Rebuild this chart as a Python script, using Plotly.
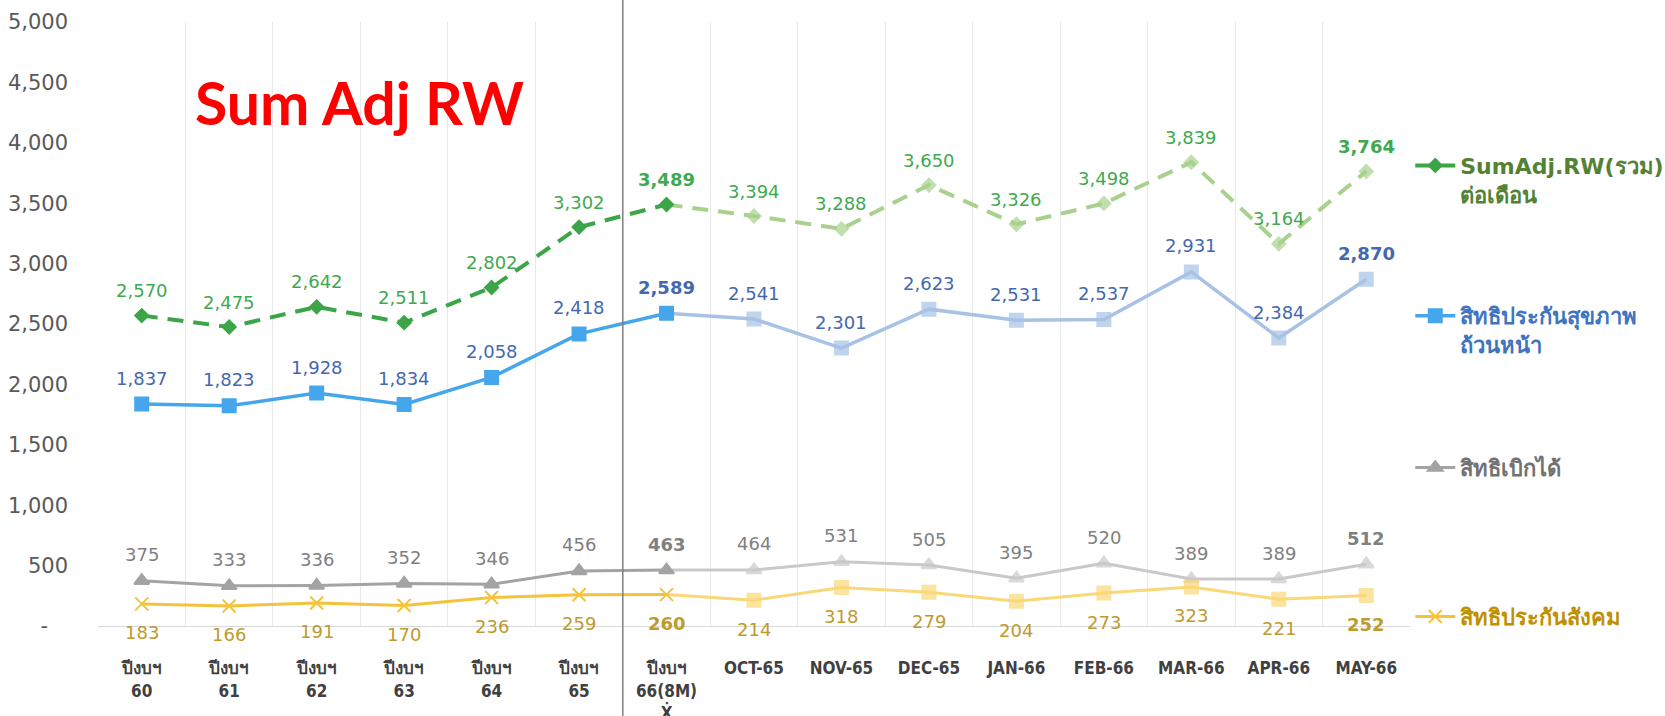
import plotly.graph_objects as go

categories = ["ปีงบฯ<br>60", "ปีงบฯ<br>61", "ปีงบฯ<br>62", "ปีงบฯ<br>63", "ปีงบฯ<br>64", "ปีงบฯ<br>65",
              "ปีงบฯ<br>66(8M)<br>Ẋ", "OCT-65", "NOV-65", "DEC-65", "JAN-66", "FEB-66", "MAR-66", "APR-66", "MAY-66"]
sum_adj = [2570, 2475, 2642, 2511, 2802, 3302, 3489, 3394, 3288, 3650, 3326, 3498, 3839, 3164, 3764]
uc = [1837, 1823, 1928, 1834, 2058, 2418, 2589, 2541, 2301, 2623, 2531, 2537, 2931, 2384, 2870]
csmbs = [375, 333, 336, 352, 346, 456, 463, 464, 531, 505, 395, 520, 389, 389, 512]
sso = [183, 166, 191, 170, 236, 259, 260, 214, 318, 279, 204, 273, 323, 221, 252]
bold_idx = [6, 14]
split = 6  # last fiscal-year point

series = [
    dict(name="SumAdj.RW(รวม)<br>ต่อเดือน", y=sum_adj, dark="#3BA548", light="#A9D18E", txt="#3FA950",
         sym="diamond", sym2="diamond", size=10, width=4, dash="16px,10px", shift=25,
         leg="legend", legcol="#548235", legy=0.798),
    dict(name="สิทธิประกันสุขภาพ<br>ถ้วนหน้า", y=uc, dark="#45A6EC", light="#A8C2E6", txt="#4468B0",
         sym="square", sym2="square", size=13, width=3.5, dash="solid", shift=26,
         leg="legend2", legcol="#3F74C0", legy=0.588),
    dict(name="สิทธิเบิกได้", y=csmbs, dark="#A3A3A3", light="#C9C9C9", txt="#808080",
         sym="triangle-up", sym2="triangle-up", size=13, width=3, dash="solid", shift=26,
         leg="legend3", legcol="#727272", legy=0.376),
    dict(name="สิทธิประกันสังคม", y=sso, dark="#F5C33B", light="#FAD878", txt="#BF9A2C",
         sym="x-thin-open", sym2="square", size=13, width=3, dash="solid", shift=-29,
         leg="legend4", legcol="#BF9000", legy=0.168),
]

x_all = list(range(len(categories)))


def lbl(i, v):
    s = f"{v:,}"
    return f"<b>{s}</b>" if i in bold_idx else s


fig = go.Figure()
annotations = []
for s in series:
    # monthly (light) segment
    xs = x_all[split:]
    ys = s["y"][split:]
    fig.add_trace(go.Scatter(
        x=xs, y=ys, mode="lines+markers",
        line=dict(color=s["light"], width=s["width"], dash=s["dash"]),
        marker=dict(symbol=s["sym2"], size=[0] + [s["size"]] * (len(xs) - 1), color=s["light"],
                    line=dict(color=s["light"], width=2)),
        showlegend=False, cliponaxis=False, hoverinfo="skip",
    ))
    xs = x_all[:split + 1]
    ys = s["y"][:split + 1]
    fig.add_trace(go.Scatter(
        x=xs, y=ys, mode="lines+markers", name=s["name"],
        line=dict(color=s["dark"], width=s["width"], dash=s["dash"]),
        marker=dict(symbol=s["sym"], size=s["size"], color=s["dark"],
                    line=dict(color=s["dark"], width=2)),
        legend=s["leg"], cliponaxis=False,
    ))
    for i, v in enumerate(s["y"]):
        annotations.append(dict(
            x=i, y=v, xref="x", yref="y", text=lbl(i, v), showarrow=False,
            yanchor="middle", xanchor="center", yshift=s["shift"],
            font=dict(family="DejaVu Sans", size=18, color=s["txt"]),
        ))

leg_layout = {}
for s in series:
    leg_layout[s["leg"]] = dict(
        xref="container", yref="container",
        x=0.847, xanchor="left", y=s["legy"], yanchor="top", valign="top",
        bgcolor="rgba(0,0,0,0)", itemwidth=40,
        font=dict(family="DejaVu Sans, Noto Sans", size=22, color=s["legcol"], weight="bold"),
    )

annotations.append(dict(
    text="<b>Sum Adj RW</b>", xref="paper", yref="paper", x=0.0725, y=0.866,
    xanchor="left", yanchor="middle", showarrow=False,
    font=dict(family="Lato, Open Sans", size=59, color="#FF0000"),
))

fig.update_layout(
    width=1665, height=716,
    margin=dict(l=98, r=255, t=22, b=90),
    paper_bgcolor="white", plot_bgcolor="white",
    font=dict(family="DejaVu Sans, Noto Sans, sans-serif"),
    xaxis=dict(
        range=[-0.5, 14.5], tickmode="array", tickvals=x_all, ticktext=categories,
        showgrid=False, zeroline=False, showline=False, automargin=False,
        ticks="outside", ticklen=27, tickcolor="rgba(0,0,0,0)",
        tickfont=dict(family="Liberation Sans Narrow, DejaVu Sans Condensed, sans-serif", size=17,
                      color="#404040", weight="bold"),
        minor=dict(tickvals=[i - 0.5 for i in range(16)], showgrid=True, gridcolor="#E9E9E9",
                   gridwidth=1),
    ),
    yaxis=dict(
        range=[0, 5000], tickmode="array", tickvals=list(range(0, 5001, 500)),
        ticktext=["-\u00a0\u00a0\u00a0"] + [f"{v:,}" for v in range(500, 5001, 500)],
        showgrid=False, zeroline=True, zerolinecolor="#D9D9D9", zerolinewidth=1,
        showline=False, ticklabelstandoff=29, automargin=False,
        tickfont=dict(family="DejaVu Sans", size=21, color="#595959"),
    ),
    annotations=annotations,
    shapes=[dict(type="line", xref="x", yref="paper", x0=5.5, x1=5.5, y0=-0.16, y1=1.05,
                 line=dict(color="#7F7F7F", width=1.5))],
    **leg_layout,
)

fig.write_html("out.html", config={"displayModeBar": False},
               post_script="document.body.style.margin='0';")
